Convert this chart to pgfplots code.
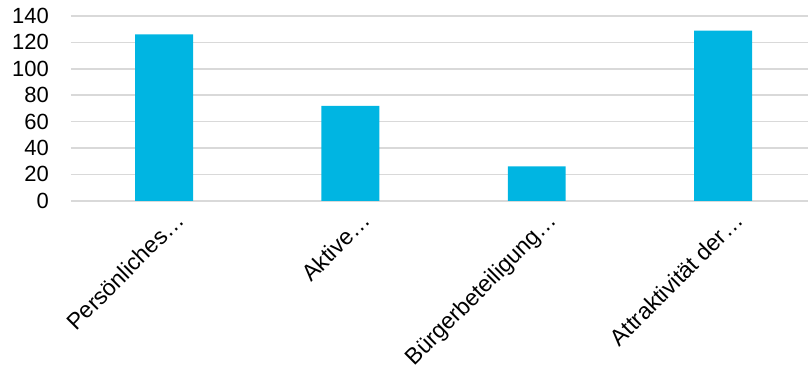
\documentclass[border=0pt]{standalone}
\usepackage{fontspec}
\setmainfont{Liberation Sans}
\usepackage{pgfplots}
\pgfplotsset{compat=1.18}
\definecolor{barblue}{HTML}{00B5E2}
\definecolor{gridgray}{HTML}{D9D9D9}
\begin{document}
\begin{tikzpicture}[x=1pt,y=1pt]
\begin{axis}[
  at={(0,0)}, anchor=south west,
  scale only axis,
  width=738pt, height=185pt,
  xmin=-0.5, xmax=3.457,
  ymin=0, ymax=140,
  ytick={0,20,...,140},
  xtick={0,1,2,3},
  xticklabels={Persönliches…,Aktive…,Bürgerbeteiligung…,Attraktivität der…},
  x tick label style={rotate=45, anchor=north east, inner sep=0pt, xshift=0pt, yshift=-13.5pt,
    font=\fontsize{23}{27}\selectfont},
  y tick label style={anchor=east, inner sep=0pt, xshift=-22pt,
    font=\fontsize{22}{26}\selectfont},
  /pgf/number format/assume math mode=true,
  axis line style={draw=none},
  major tick length=0pt,
  ymajorgrids, grid style={gridgray, line width=1.5pt},
  clip=false,
]
\addplot[ybar, bar width=58pt, fill=barblue, draw=none] coordinates {(0,126) (1,72) (2,26) (3,129)};
\end{axis}
\useasboundingbox (-71pt,-166pt) rectangle (738pt,201pt);
\end{tikzpicture}
\end{document}
